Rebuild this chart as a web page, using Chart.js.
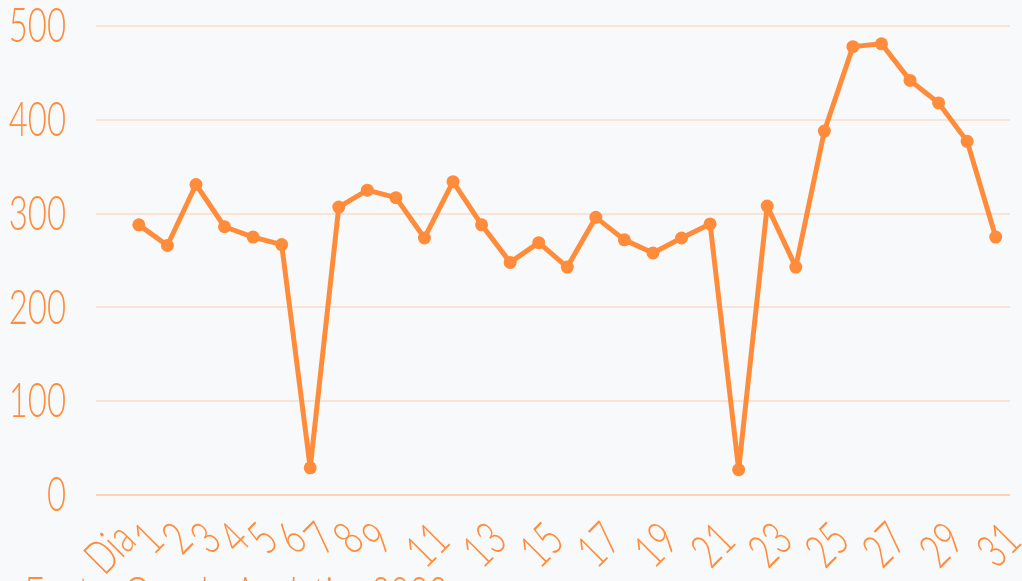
<!DOCTYPE html>
<html>
<head>
<meta charset="utf-8">
<script src="https://cdn.jsdelivr.net/npm/chart.js@4/dist/chart.umd.min.js"></script>
<style>
  html, body { margin: 0; padding: 0; background: #f8f9fb; overflow: hidden; }
</style>
</head>
<body>
<canvas id="myChart" width="1022" height="581"></canvas>
<script>
    // categorias (a primeira posição só leva o texto "Dia")
    var days = ['Dia', '1', '2', '3', '4', '5', '6', '7', '8', '9', '10',
      '11', '12', '13', '14', '15', '16', '17', '18', '19', '20',
      '21', '22', '23', '24', '25', '26', '27', '28', '29', '30', '31'];
    // rótulos mostrados no eixo x
    var tick_labels = ['Dia', '1', '2', '3', '4', '5', '6', '7', '8', '9', '',
      '11', '', '13', '', '15', '', '17', '', '19', '',
      '21', '', '23', '', '25', '', '27', '', '29', '', '31'];
    var visits = [null, 288, 266, 331, 286, 275, 267, 29, 307, 325, 317,
      274, 334, 288, 248, 269, 243, 296, 272, 258, 274,
      289, 27, 308, 243, 388, 478, 481, 442, 418, 377, 275];
    var y_ticks = [0, 100, 200, 300, 400, 500];
    var source_text = 'Fonte: Google Analytics 2022';

    var orange = 'rgb(255, 140, 58)';
    var label_font = '300 47px Lato, "Noto Sans", sans-serif';
    var squeeze = 0.7;

    // desenha os textos estreitos (a fonte original é condensada)
    var narrowLabels = {
      id: 'narrowLabels',
      afterDraw: function (chart) {
        var c = chart.ctx;
        var xs = chart.scales.x, ys = chart.scales.y;
        c.save();
        c.fillStyle = orange;
        c.font = label_font;
        c.textAlign = 'right';
        c.textBaseline = 'middle';
        y_ticks.forEach(function (v) {
          c.save();
          c.translate(66, ys.getPixelForValue(v) + 1);
          c.scale(squeeze, 1);
          c.fillText(String(v), 0, 0);
          c.restore();
        });
        tick_labels.forEach(function (t, i) {
          if (!t) return;
          c.save();
          c.translate(xs.getPixelForValue(i) + 17, ys.bottom + 37);
          c.rotate(-Math.PI / 4);
          c.scale(squeeze, 1);
          c.fillText(t, 0, 0);
          c.restore();
        });
        c.textAlign = 'left';
        c.textBaseline = 'alphabetic';
        c.translate(25, 611);
        c.scale(squeeze, 1);
        c.fillText(source_text, 0, 0);
        c.restore();
      }
    };

    var ctx = document.getElementById('myChart');
    var myChart = new Chart(ctx, {
      type: 'line',
      data: {
        labels: days,
        datasets: [{
          label: 'Visitas',
          data: visits,
          borderColor: orange,
          backgroundColor: orange,
          borderWidth: 5,
          borderJoinStyle: 'round',
          pointRadius: 6.5,
          pointBorderWidth: 0,
          pointBackgroundColor: orange,
          tension: 0
        }]
      },
      options: {
        responsive: false,
        animation: false,
        layout: {
          padding: { left: 96, right: 12, top: 26, bottom: 86 }
        },
        plugins: {
          legend: { display: false },
          tooltip: { enabled: false }
        },
        scales: {
          x: {
            offset: true,
            grid: { display: false, drawTicks: false },
            border: { display: false },
            ticks: { display: false }
          },
          y: {
            min: 0,
            max: 500,
            afterBuildTicks: function (axis) {
              axis.ticks = y_ticks.map(function (v) { return { value: v }; });
            },
            grid: {
              color: function (g) {
                return g.tick && g.tick.value === 0 ? 'rgba(255, 140, 58, 0.35)' : 'rgba(255, 140, 58, 0.2)';
              },
              lineWidth: 2,
              drawTicks: false
            },
            border: { display: false },
            ticks: { display: false }
          }
        }
      },
      plugins: [narrowLabels]
    });
</script>
</body>
</html>
